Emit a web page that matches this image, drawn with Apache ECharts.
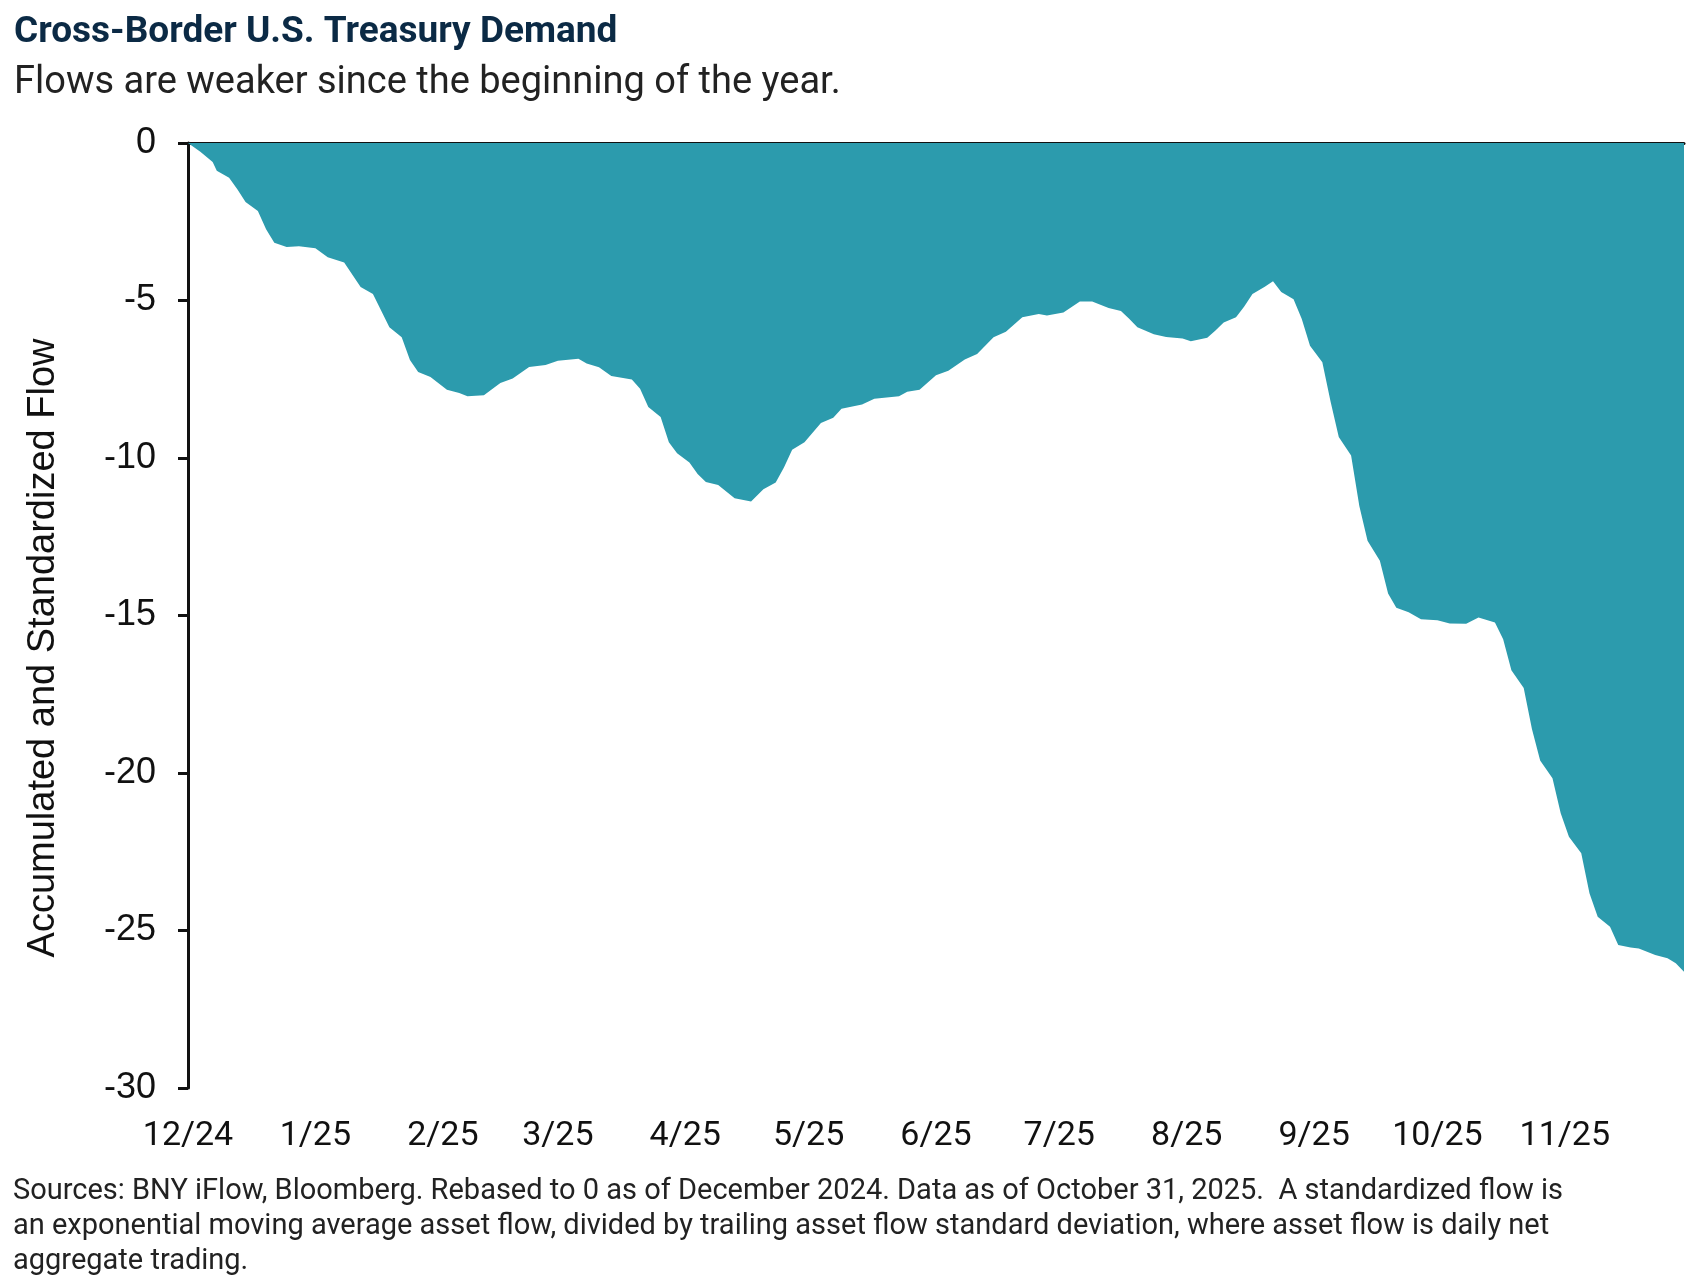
<!DOCTYPE html>
<html>
<head>
<meta charset="utf-8">
<title>Cross-Border U.S. Treasury Demand</title>
<script src="https://cdn.jsdelivr.net/npm/echarts@6/dist/echarts.min.js"></script>
<style>
    html, body { margin: 0; padding: 0; background: #fff; }
    #main { width: 1697px; height: 1283px; }
</style>
</head>
<body>
<div id="main"></div>
<script>
// accumulated and standardized flow
const flowDates = [
    '2024-12-01', '2024-12-04', '2024-12-07', '2024-12-08', '2024-12-11', '2024-12-13', '2024-12-15',
    '2024-12-18', '2024-12-20', '2024-12-22', '2024-12-25', '2024-12-28',
    '2025-01-01', '2025-01-04', '2025-01-08', '2025-01-12', '2025-01-15', '2025-01-19', '2025-01-22',
    '2025-01-24', '2025-01-26', '2025-01-29',
    '2025-02-02', '2025-02-05', '2025-02-07', '2025-02-11', '2025-02-15', '2025-02-18', '2025-02-22',
    '2025-02-26',
    '2025-03-01', '2025-03-06', '2025-03-08', '2025-03-11', '2025-03-14', '2025-03-19', '2025-03-21',
    '2025-03-23', '2025-03-26', '2025-03-28', '2025-03-30',
    '2025-04-02', '2025-04-04', '2025-04-06', '2025-04-09', '2025-04-13', '2025-04-17', '2025-04-20',
    '2025-04-23', '2025-04-25', '2025-04-27', '2025-04-30',
    '2025-05-04', '2025-05-07', '2025-05-09', '2025-05-14', '2025-05-17', '2025-05-23', '2025-05-25',
    '2025-05-28',
    '2025-06-01', '2025-06-04', '2025-06-08', '2025-06-11', '2025-06-15', '2025-06-18', '2025-06-22',
    '2025-06-26', '2025-06-28',
    '2025-07-02', '2025-07-06', '2025-07-09', '2025-07-13', '2025-07-16', '2025-07-18', '2025-07-20',
    '2025-07-24', '2025-07-27', '2025-07-31',
    '2025-08-02', '2025-08-06', '2025-08-08', '2025-08-10', '2025-08-13', '2025-08-15', '2025-08-17',
    '2025-08-20', '2025-08-22', '2025-08-24', '2025-08-27', '2025-08-29', '2025-08-31',
    '2025-09-03', '2025-09-05', '2025-09-07', '2025-09-10', '2025-09-12', '2025-09-14', '2025-09-17',
    '2025-09-19', '2025-09-21', '2025-09-24', '2025-09-27',
    '2025-10-01', '2025-10-04', '2025-10-08', '2025-10-11', '2025-10-15', '2025-10-17', '2025-10-19',
    '2025-10-22', '2025-10-24', '2025-10-26', '2025-10-29', '2025-10-31',
    '2025-11-02', '2025-11-05', '2025-11-07', '2025-11-09', '2025-11-12', '2025-11-14', '2025-11-17',
    '2025-11-19', '2025-11-23', '2025-11-26', '2025-11-28', '2025-11-30'
];
const flowValues = [
    0, -0.28, -0.6, -0.88, -1.1, -1.47, -1.87,
    -2.16, -2.74, -3.17, -3.3, -3.28,
    -3.34, -3.63, -3.79, -4.57, -4.79, -5.85, -6.17,
    -6.89, -7.27, -7.43,
    -7.83, -7.94, -8.04, -8.01, -7.62, -7.48, -7.11,
    -7.05,
    -6.91, -6.85, -7.0, -7.12, -7.4, -7.51, -7.8,
    -8.38, -8.7, -9.5, -9.85,
    -10.14, -10.51, -10.76, -10.86, -11.28, -11.38, -10.99,
    -10.78, -10.3, -9.74, -9.5,
    -8.89, -8.72, -8.44, -8.3, -8.12, -8.04, -7.9,
    -7.83,
    -7.37, -7.23, -6.87, -6.7, -6.17, -5.99, -5.53,
    -5.43, -5.48,
    -5.38, -5.03, -5.03, -5.24, -5.33, -5.58, -5.85,
    -6.07, -6.16, -6.21,
    -6.29, -6.18, -5.95, -5.7, -5.53, -5.19, -4.79,
    -4.56, -4.39, -4.73, -4.96, -5.59, -6.44,
    -6.96, -8.21, -9.33, -9.92, -11.52, -12.63, -13.26,
    -14.3, -14.75, -14.9, -15.12,
    -15.15, -15.25, -15.26, -15.06, -15.22, -15.75, -16.74,
    -17.3, -18.6, -19.6, -20.17, -21.28,
    -22.02, -22.55, -23.82, -24.56, -24.88, -25.46, -25.54,
    -25.57, -25.78, -25.88, -26.04, -26.31
];

// month ticks on the x axis
const monthTicks = [
    '2024-12-01', '2025-01-01', '2025-02-01', '2025-03-01', '2025-04-01', '2025-05-01',
    '2025-06-01', '2025-07-01', '2025-08-01', '2025-09-01', '2025-10-01', '2025-11-01'
];
const monthLabels = ['12/24', '1/25', '2/25', '3/25', '4/25', '5/25', '6/25', '7/25', '8/25', '9/25', '10/25', '11/25'];

const toTime = (d) => echarts.time.parse(d).getTime();
const tickTimes = monthTicks.map(toTime);
const xMin = tickTimes[0];
const xMax = toTime(flowDates[flowDates.length - 1]);

const teal = '#2C9BAD';
const ink = '#111111';

const footnote = [
    'Sources: BNY iFlow, Bloomberg. Rebased to 0 as of December 2024. Data as of October 31, 2025.  A standardized flow is',
    'an exponential moving average asset flow, divided by trailing asset flow standard deviation, where asset flow is daily net',
    'aggregate trading.'
].join('\n');

let myChart = echarts.init(document.getElementById('main'), null, { renderer: 'canvas' });

let option = {
    backgroundColor: '#fff',
    animation: false,
    title: [
        {
            text: 'Cross-Border U.S. Treasury Demand',
            left: 9,
            top: 9,
            textStyle: { fontFamily: 'Roboto', fontWeight: 'bold', fontSize: 37, color: '#0B2A45' }
        },
        {
            text: 'Flows are weaker since the beginning of the year.',
            left: 9,
            top: 59,
            textStyle: { fontFamily: 'Roboto', fontWeight: 'normal', fontSize: 38, color: '#222' }
        }
    ],
    grid: { left: 188, top: 143, right: 13, bottom: 195 },
    xAxis: [
        {
            // labels under the plot
            type: 'value',
            position: 'bottom',
            min: xMin,
            max: xMax,
            axisLine: { show: false },
            axisTick: { show: false },
            splitLine: { show: false },
            axisLabel: {
                customValues: tickTimes,
                formatter: (v) => monthLabels[tickTimes.indexOf(v)] || '',
                fontFamily: 'Roboto',
                fontSize: 34,
                color: ink,
                margin: 31
            }
        },
        {
            // the zero line with month ticks pointing down
            type: 'value',
            position: 'top',
            min: xMin,
            max: xMax,
            axisLine: { show: true, lineStyle: { color: ink, width: 3 } },
            axisTick: { show: true, inside: true, length: 11, customValues: tickTimes, lineStyle: { color: ink, width: 3 } },
            axisLabel: { show: false },
            splitLine: { show: false }
        }
    ],
    yAxis: {
        type: 'value',
        min: -30,
        max: 0,
        interval: 5,
        axisLine: { show: true, lineStyle: { color: ink, width: 3 } },
        axisTick: { show: true, length: 10, lineStyle: { color: ink, width: 3 } },
        splitLine: { show: false },
        axisLabel: { fontFamily: 'Liberation Sans', fontSize: 36, color: ink, margin: 32 }
    },
    series: [
        {
            name: 'Flow',
            type: 'line',
            xAxisIndex: 0,
            data: flowDates.map((d, i) => [toTime(d), flowValues[i]]),
            symbol: 'none',
            lineStyle: { width: 0 },
            areaStyle: { color: teal, opacity: 1 },
            z: 1
        }
    ],
    graphic: [
        {
            // y axis title, set a little below the plot's middle as in the original
            type: 'text',
            x: 44,
            y: 648,
            rotation: Math.PI / 2,
            style: {
                text: 'Accumulated and Standardized Flow',
                font: '38px "Liberation Sans"',
                fill: ink,
                align: 'center',
                verticalAlign: 'middle'
            }
        },
        {
            type: 'text',
            left: 13,
            top: 1174,
            style: {
                text: footnote,
                font: '29px Roboto',
                lineHeight: 35,
                fill: '#222'
            }
        }
    ]
};

myChart.setOption(option);
</script>
</body>
</html>
